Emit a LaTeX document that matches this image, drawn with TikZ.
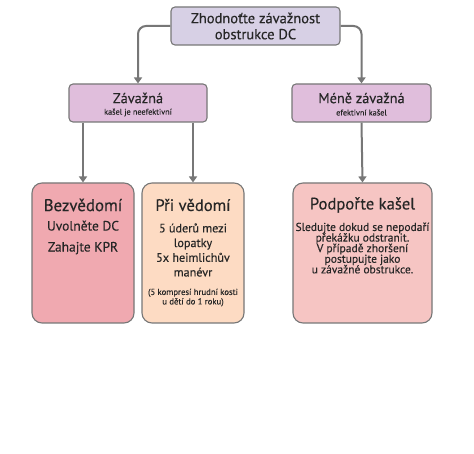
\documentclass[tikz,border=0pt]{standalone}
\usepackage{fontspec}
\setmainfont{PT Sans}[FakeBold=0.3]
\usetikzlibrary{arrows.meta}
\definecolor{topfill}{HTML}{D7D0E5}
\definecolor{midfill}{HTML}{E0BEDC}
\definecolor{bezfill}{HTML}{F0A9B0}
\definecolor{prifill}{HTML}{FDDBC3}
\definecolor{podfill}{HTML}{F6C5C3}
\definecolor{edge}{HTML}{777777}
\tikzset{
  box/.style={draw=edge, line width=1.1pt, rounded corners=4pt, inner sep=0pt},
  bigbox/.style={draw=edge, line width=1.1pt, rounded corners=10pt, inner sep=0pt},
  conn/.style={draw=edge, line width=2pt, rounded corners=8pt, -{Triangle[width=8pt,length=6pt]}},
  txt/.style={inner sep=0pt, align=center, text=black!85},
}
\begin{document}
\lineskiplimit=-20pt\relax
\begin{tikzpicture}[x=1pt,y=-1pt]
\useasboundingbox[fill=white] (0,0) rectangle (474,454);
% boxes
\node[box, fill=topfill, minimum width=169pt, minimum height=38pt] (top) at (255.5,26) {};
\node[box, fill=midfill, minimum width=138pt, minimum height=38pt] (zav) at (138,103) {};
\node[box, fill=midfill, minimum width=139pt, minimum height=38pt] (mene) at (361.5,103) {};
\node[bigbox, fill=bezfill, minimum width=102pt, minimum height=140pt] (bez) at (83,253) {};
\node[bigbox, fill=prifill, minimum width=102pt, minimum height=140pt] (pri) at (193,253) {};
\node[bigbox, fill=podfill, minimum width=139pt, minimum height=140pt] (pod) at (362.5,253) {};
% connectors
\draw[conn] (top.west) -| (zav.north);
\draw[conn] (top.east) -| (mene.north);
\draw[conn] (zav.south -| bez.north) -- (bez.north);
\draw[conn] (zav.south -| pri.north) -- (pri.north);
\draw[conn] (mene.south) -- (pod.north);
% texts
\node[txt, font=\fontsize{14.5}{16}\selectfont] (ttop) at (255.5,26) {Zhodnoťte závažnost\\obstrukce DC};
\node[txt, font=\fontsize{14.3}{15}\selectfont] (tzav) at (138,98) {Závažná};
\node[txt, font=\fontsize{8.2}{9}\selectfont] (szav) at (138,112.5) {kašel je neefektivní};
\node[txt, font=\fontsize{14.3}{15}\selectfont] (tmene) at (361.5,98) {Méně závažná};
\node[txt, font=\fontsize{8.2}{9}\selectfont] (smene) at (361.5,112.5) {efektivní kašel};
\node[txt, font=\fontsize{16.9}{18}\selectfont] (tbez) at (83,205) {Bezvědomí};
\node[txt, font=\fontsize{13.5}{21}\selectfont] (bbez) at (83,237.5) {Uvolněte DC\\Zahajte KPR};
\node[txt, font=\fontsize{16.6}{18}\selectfont] (tpri) at (193,205) {Při vědomí};
\node[txt, font=\fontsize{12.2}{14.7}\selectfont] (bpri) at (193,250) {5 úderů mezi\\lopatky\\5x heimlichův\\manévr};
\node[txt, font=\fontsize{8.7}{9.5}\selectfont] (spri) at (193,297.5) {(5 kompresí hrudní kosti\\u dětí do 1 roku)};
\node[txt, font=\fontsize{16.6}{18}\selectfont] (tpod) at (362.5,205) {Podpořte kašel};
\node[txt, font=\fontsize{11.5}{10.6}\selectfont] (bpod) at (362.5,248) {Sledujte dokud se nepodaří\\překážku odstranit.\\V případě zhoršení\\postupujte jako\\u závažné obstrukce.};
\end{tikzpicture}
\end{document}
